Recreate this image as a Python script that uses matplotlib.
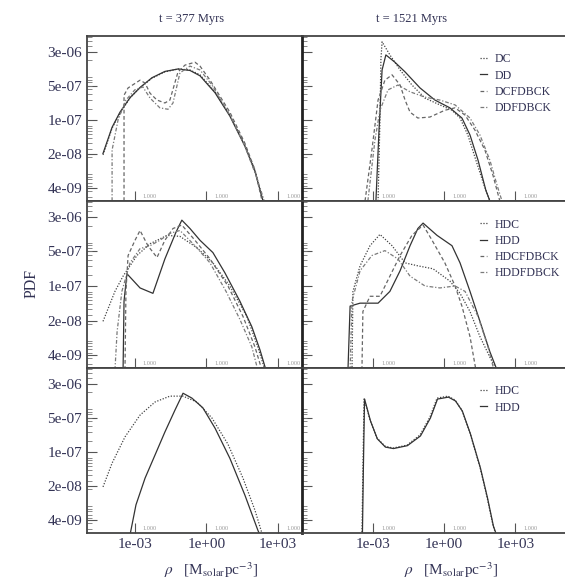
import numpy as np
import matplotlib
matplotlib.use('Agg')
import matplotlib.pyplot as plt
import matplotlib.transforms as mtransforms
from matplotlib.ticker import FixedLocator, NullFormatter, LogLocator, NullLocator

plt.rcParams['font.family'] = ['Liberation Serif', 'DejaVu Serif']
plt.rcParams['mathtext.fontset'] = 'stix'

# all curves: log10(rho) and log10(PDF)

# ---- t = 377 Myrs, DC / DD runs
dc377_x = [-4.33, -3.95, -3.62, -3.20, -2.78, -2.28, -1.74, -1.19, -0.69, -0.27, 0.36, 0.98, 1.61, 2.03, 2.36]
dc377_y = [-7.65, -7.10, -6.79, -6.48, -6.27, -6.07, -5.94, -5.88, -5.90, -6.00, -6.35, -6.83, -7.45, -7.96, -8.58]
dd377_x = [-4.33, -3.95, -3.62, -3.20, -2.78, -2.28, -1.74, -1.19, -0.69, -0.27, 0.36, 0.98, 1.61, 2.03, 2.38]
dd377_y = [-7.62, -7.08, -6.77, -6.47, -6.26, -6.06, -5.93, -5.88, -5.91, -6.02, -6.37, -6.85, -7.47, -7.99, -8.62]
dcf377_x = [-3.45, -3.45, -3.28, -2.78, -2.57, -2.36, -2.07, -1.74, -1.53, -1.19, -0.90, -0.48, -0.27, 0.15, 0.98, 1.61, 2.03, 2.32]
dcf377_y = [-8.60, -6.42, -6.27, -6.11, -6.17, -6.38, -6.52, -6.58, -6.52, -5.94, -5.80, -5.74, -5.82, -6.11, -6.77, -7.41, -7.96, -8.58]
ddf377_x = [-3.95, -3.95, -3.70, -3.37, -3.00, -2.66, -2.36, -1.95, -1.61, -1.40, -1.11, -0.69, -0.27, 0.23, 0.98, 1.61, 2.07, 2.41]
ddf377_y = [-8.60, -7.55, -6.93, -6.52, -6.31, -6.25, -6.48, -6.68, -6.71, -6.58, -5.96, -5.82, -5.90, -6.21, -6.83, -7.47, -8.07, -8.58]

# ---- t = 1521 Myrs, DC / DD runs
dc1521_x = [-2.79, -2.71, -2.67, -2.62, -2.29, -1.86, -1.36, -0.81, -0.18, 0.33, 0.67, 1.00, 1.34, 1.68, 1.93]
dc1521_y = [-8.60, -6.93, -5.69, -5.32, -5.59, -5.90, -6.21, -6.48, -6.62, -6.73, -6.89, -7.24, -7.76, -8.27, -8.60]
dd1521_x = [-2.88, -2.75, -2.62, -2.46, -2.08, -1.65, -1.02, -0.39, 0.24, 0.75, 1.09, 1.43, 1.76, 1.93]
dd1521_y = [-8.60, -7.14, -5.90, -5.59, -5.74, -5.94, -6.27, -6.52, -6.68, -6.89, -7.24, -7.76, -8.38, -8.60]
dcf1521_x = [-3.34, -3.05, -2.79, -2.50, -2.20, -1.86, -1.65, -1.44, -1.11, -0.60, 0.03, 0.46, 0.88, 1.30, 1.72, 2.06, 2.35]
dcf1521_y = [-8.60, -7.55, -6.52, -6.11, -6.00, -6.21, -6.52, -6.77, -6.89, -6.87, -6.73, -6.68, -6.83, -7.14, -7.55, -8.07, -8.60]
ddf1521_x = [-3.22, -2.92, -2.71, -2.37, -1.95, -1.44, -0.81, -0.18, 0.46, 1.09, 1.51, 1.93, 2.23, 2.44]
ddf1521_y = [-8.60, -7.34, -6.73, -6.31, -6.21, -6.35, -6.46, -6.52, -6.62, -6.89, -7.24, -7.76, -8.27, -8.60]

# ---- t = 377 Myrs, HDC / HDD runs
hdc377_x = [-4.33, -3.83, -3.49, -2.91, -2.36, -1.65, -1.11, -0.40, 0.27, 0.98, 1.69, 2.15, 2.45]
hdc377_y = [-7.65, -7.04, -6.73, -6.31, -6.07, -5.90, -5.92, -6.15, -6.46, -6.93, -7.55, -8.17, -8.64]
hdd377_x = [-3.49, -3.45, -3.33, -2.78, -2.24, -1.74, -1.28, -1.03, -0.69, -0.27, 0.27, 0.77, 1.40, 1.90, 2.24, 2.49]
hdd377_y = [-8.64, -7.24, -6.68, -6.97, -7.08, -6.38, -5.84, -5.59, -5.76, -6.00, -6.25, -6.66, -7.24, -7.76, -8.23, -8.64]
hdcf377_x = [-3.41, -3.37, -3.28, -2.99, -2.78, -2.45, -2.07, -1.74, -1.40, -1.03, -0.48, 0.15, 0.90, 1.53, 2.03, 2.32]
hdcf377_y = [-8.64, -7.04, -6.31, -6.00, -5.80, -6.11, -6.35, -6.00, -5.76, -5.69, -6.00, -6.38, -6.93, -7.55, -8.17, -8.64]
hddf377_x = [-3.83, -3.74, -3.54, -3.20, -2.78, -2.36, -1.95, -1.53, -1.11, -0.48, 0.15, 0.82, 1.40, 1.90, 2.15]
hddf377_y = [-8.64, -7.86, -7.04, -6.46, -6.17, -6.11, -6.00, -5.86, -5.80, -6.11, -6.46, -7.04, -7.61, -8.17, -8.64]

# ---- t = 1521 Myrs, HDC / HDD runs
hdc1521_x = [-3.89, -3.85, -3.55, -3.13, -2.71, -2.20, -1.65, -1.11, -0.47, 0.24, 0.67, 1.09, 1.51, 1.93, 2.23]
hdc1521_y = [-8.64, -7.04, -6.52, -6.11, -5.88, -6.11, -6.46, -6.52, -6.58, -6.83, -7.08, -7.45, -7.96, -8.38, -8.64]
hdd1521_x = [-4.06, -3.97, -3.55, -2.79, -2.29, -1.86, -1.44, -1.11, -0.89, -0.30, 0.33, 0.67, 1.09, 1.51, 1.93, 2.23]
hdd1521_y = [-8.64, -7.34, -7.28, -7.28, -7.04, -6.62, -6.11, -5.76, -5.65, -5.90, -6.11, -6.46, -7.04, -7.65, -8.27, -8.64]
hdcf1521_x = [-3.47, -3.43, -3.13, -2.71, -2.29, -1.86, -1.36, -0.89, -0.51, 0.03, 0.46, 0.75, 1.09, 1.34]
hdcf1521_y = [-8.64, -7.45, -7.14, -7.14, -6.73, -6.31, -5.90, -5.69, -6.00, -6.46, -6.93, -7.34, -7.96, -8.64]
hddf1521_x = [-3.97, -3.89, -3.55, -3.05, -2.50, -1.95, -1.44, -0.81, -0.18, 0.46, 0.88, 1.43, 1.85, 2.10]
hddf1521_y = [-8.64, -7.24, -6.62, -6.31, -6.21, -6.38, -6.73, -6.93, -6.97, -6.93, -7.04, -7.55, -8.17, -8.64]

# ---- bottom row, HDC / HDD runs
hdc377b_x = [-4.33, -3.95, -3.41, -2.78, -2.15, -1.53, -0.98, -0.40, 0.23, 0.90, 1.53, 2.03, 2.32]
hdc377b_y = [-7.65, -7.16, -6.62, -6.17, -5.90, -5.78, -5.78, -5.90, -6.23, -6.77, -7.47, -8.13, -8.60]
hdd377b_x = [-3.20, -2.95, -2.57, -2.15, -1.74, -1.32, -0.98, -0.61, -0.15, 0.36, 0.98, 1.61, 2.15, 2.24]
hdd377b_y = [-8.64, -8.02, -7.47, -6.99, -6.52, -6.07, -5.72, -5.82, -6.02, -6.44, -7.06, -7.82, -8.54, -8.64]
hdc1521b_x = [-3.47, -3.43, -3.38, -3.13, -2.84, -2.50, -2.16, -1.57, -1.02, -0.60, -0.30, 0.16, 0.46, 0.75, 1.09, 1.51, 1.81, 2.06, 2.19]
hdc1521b_y = [-8.64, -7.30, -5.82, -6.27, -6.64, -6.81, -6.85, -6.79, -6.58, -6.21, -5.82, -5.78, -5.86, -6.07, -6.54, -7.24, -7.86, -8.44, -8.64]
hdd1521b_x = [-3.45, -3.41, -3.36, -3.11, -2.82, -2.48, -2.14, -1.55, -1.00, -0.58, -0.28, 0.18, 0.48, 0.77, 1.11, 1.53, 1.83, 2.08, 2.21]
hdd1521b_y = [-8.64, -7.28, -5.84, -6.29, -6.66, -6.83, -6.86, -6.80, -6.60, -6.23, -5.84, -5.80, -5.88, -6.09, -6.56, -7.26, -7.88, -8.46, -8.64]

titles = ['t = 377 Myrs', 't = 1521 Myrs']
ytick_labels = ['3e-06', '5e-07', '1e-07', '2e-08', '4e-09']
xtick_vals = [1e-3, 1e0, 1e3]
xtick_labels = ['1e-03', '1e+00', '1e+03']

styles = [dict(ls=(0, (1, 1.3)), color='#444444'),
          dict(ls='-', color='#333333'),
          dict(ls=(0, (3, 2)), color='#666666'),
          dict(ls=(0, (3, 1.5, 1, 1.5)), color='#7a7a7a')]

panels = [
    [[(dc377_x, dc377_y), (dd377_x, dd377_y), (dcf377_x, dcf377_y), (ddf377_x, ddf377_y)],
     [(dc1521_x, dc1521_y), (dd1521_x, dd1521_y), (dcf1521_x, dcf1521_y), (ddf1521_x, ddf1521_y)]],
    [[(hdc377_x, hdc377_y), (hdd377_x, hdd377_y), (hdcf377_x, hdcf377_y), (hddf377_x, hddf377_y)],
     [(hdc1521_x, hdc1521_y), (hdd1521_x, hdd1521_y), (hdcf1521_x, hdcf1521_y), (hddf1521_x, hddf1521_y)]],
    [[(hdc377b_x, hdc377b_y), (hdd377b_x, hdd377b_y)],
     [(hdc1521b_x, hdc1521b_y), (hdd1521b_x, hdd1521b_y)]],
]
legend_labels = [['DC', 'DD', 'DCFDBCK', 'DDFDBCK'],
                 ['HDC', 'HDD', 'HDCFDBCK', 'HDDFDBCK'],
                 ['HDC', 'HDD']]

fig = plt.figure(figsize=(5.65, 5.82), dpi=100)
W, H = 565.0, 582.0
col_x = [(87, 302), (302, 565)]
row_y = [(36, 201), (201, 368), (368, 533)]
xlims = [(1e-5, 10**4.0), (1e-6, 10**5.1)]
ytick_pos = np.geomspace(3e-6, 4.6e-9, 5)
txtcol = '#333355'

for r in range(3):
    for c in range(2):
        x0, x1 = col_x[c]
        y0, y1 = row_y[r]
        ax = fig.add_axes([x0 / W, 1 - y1 / H, (x1 - x0) / W, (y1 - y0) / H])
        for k, (xs, ys) in enumerate(panels[r][c]):
            ax.plot(10 ** np.array(xs), 10 ** np.array(ys), lw=0.9,
                    label=legend_labels[r][k], **styles[k])
        ax.set_xscale('log')
        ax.set_yscale('log')
        ax.set_xlim(*xlims[c])
        ax.set_ylim(10**-8.6, 10**-5.2)
        ax.xaxis.set_major_locator(FixedLocator(xtick_vals))
        ax.xaxis.set_minor_locator(NullLocator())
        ax.yaxis.set_major_locator(FixedLocator(ytick_pos))
        ax.yaxis.set_minor_locator(LogLocator(subs=np.arange(2, 10)))
        ax.yaxis.set_minor_formatter(NullFormatter())
        ax.xaxis.set_minor_formatter(NullFormatter())
        ax.tick_params(which='major', direction='in', length=7, width=0.8, color='#555555',
                       labelsize=11, labelcolor=txtcol)
        ax.tick_params(which='minor', direction='in', length=3.5, width=0.6, color='#777777')
        if c == 0:
            ax.set_yticklabels(ytick_labels)
        else:
            ax.set_yticklabels([])
        if r == 2:
            ax.set_xticklabels(xtick_labels)
        else:
            ax.set_xticklabels([])
        for s in ['left', 'bottom', 'top']:
            ax.spines[s].set_color('#444444')
            ax.spines[s].set_linewidth(1.3)
        ax.spines['right'].set_visible(False)
        if c == 1:
            ax.spines['left'].set_linewidth(2.0)
            ax.spines['left'].set_color('#222222')
        # small inner labels next to each decade tick
        trans = mtransforms.blended_transform_factory(ax.transData, ax.transAxes)
        for xv in xtick_vals:
            ax.text(xv * 4.3, 0.012, '1.000', transform=trans, fontsize=4.5,
                    color='#999999', ha='center', va='bottom')
        if c == 1:
            ax.legend(loc='upper left', bbox_to_anchor=(0.655, 0.93), frameon=False,
                      fontsize=8.5, handlelength=0.6, handletextpad=0.6,
                      labelspacing=0.35, borderpad=0, labelcolor=txtcol)

fig.text(192 / W, 1 - 19 / H, titles[0], ha='center', va='center', fontsize=9, color=txtcol)
fig.text(412 / W, 1 - 19 / H, titles[1], ha='center', va='center', fontsize=9, color=txtcol)
fig.text(32 / W, 1 - 283 / H, 'PDF', rotation=90, ha='center', va='center', fontsize=11.5, color=txtcol)
xlab = r'$\rho$   [M$_{\mathrm{solar}}$pc$^{-3}$]'
fig.text(211 / W, 1 - 570 / H, xlab, ha='center', va='center', fontsize=11, color=txtcol)
fig.text(451 / W, 1 - 570 / H, xlab, ha='center', va='center', fontsize=11, color=txtcol)

fig.savefig('out.png', dpi=100)
